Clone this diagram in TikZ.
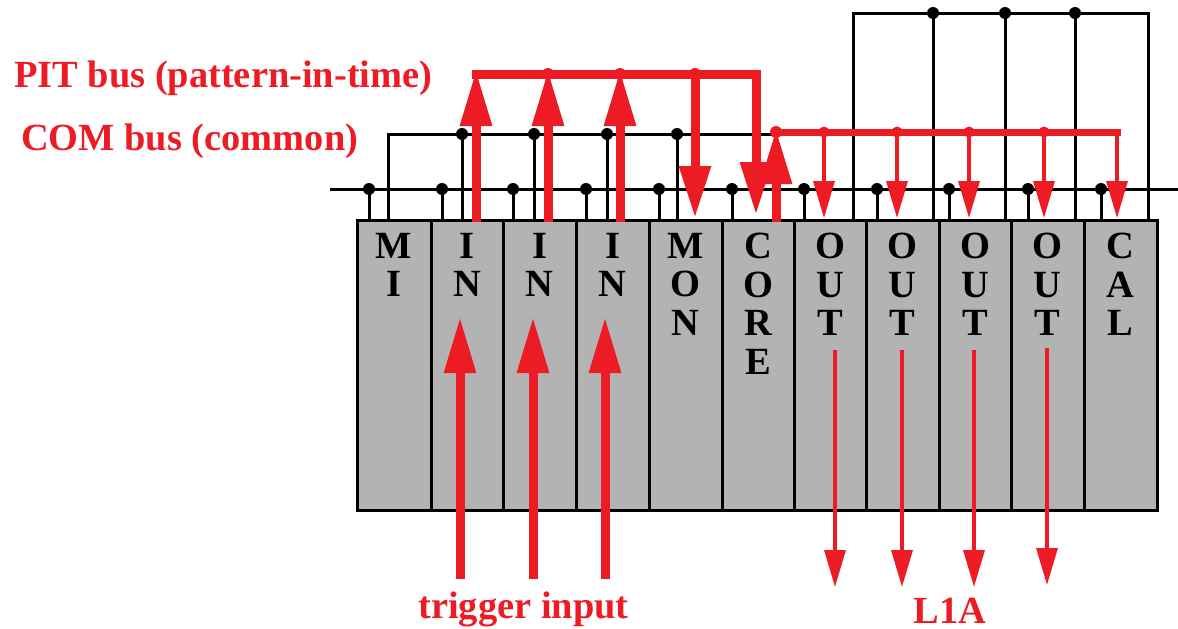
\documentclass[tikz,border=0pt]{standalone}
\usepackage{fontspec}
\setmainfont{Liberation Serif}
\usetikzlibrary{arrows.meta}
\definecolor{busred}{RGB}{237,28,36}
\definecolor{modgray}{RGB}{179,179,179}
\begin{document}
\begin{tikzpicture}[x=1pt,y=-1pt,
  module/.style={draw=black,line width=3pt,fill=modgray,inner sep=0pt,minimum height=290pt},
  letters/.style={align=center,inner sep=0pt,anchor=north,font=\fontsize{38.5}{38.5}\selectfont\bfseries},
  bus/.style={draw=black,line width=3pt},
  bdot/.style={fill=black},
  rdot/.style={fill=busred},
  lbl/.style={text=busred,inner sep=0pt,font=\fontsize{38.4}{40}\selectfont\bfseries},
  fat/.style={draw=busred,line width=9pt},
  fatup/.style={draw=busred,line width=9pt,-{Triangle[length=56pt,width=30pt]}},
  thin/.style={draw=busred,line width=3.5pt,-{Triangle[length=37pt,width=21pt]}},
]
\useasboundingbox (0,0) rectangle (1178,629);
% modules
\foreach \l/\r/\n/\t in {357/431/mi/{M\\I},431/503/ina/{I\\N},503/576/inb/{I\\N},576/649/inc/{I\\N},
  649/722/mon/{M\\O\\N},722/794/core/{C\\O\\R\\E},794/866/outa/{O\\U\\T},866/939/outb/{O\\U\\T},
  939/1011/outc/{O\\U\\T},1011/1084/outd/{O\\U\\T},1084/1157/cal/{C\\A\\L}}{
  \node[module,minimum width={\r-\l}] (\n) at ({(\l+\r)/2},365) {};
  \node[letters] (\n-t) at ({(\l+\r)/2},233) {\t};
}
% lower common bus
\draw[bus] (330,189) -- (1178,189);
\foreach \x in {369,442,513,586,659,732,804,877,949,1028,1101}{
  \draw[bus] (\x,189) -- (\x,220);
  \fill[bdot] (\x,189) circle[radius=6pt];
}
% COM bus (black, left)
\draw[bus] (388,220) -- (388,134) -- (778,134);
\foreach \x in {462,534,607,677}{
  \draw[bus] (\x,134) -- (\x,220);
  \fill[bdot] (\x,134) circle[radius=6pt];
}
% top right bus
\draw[bus] (853,220) -- (853,13) -- (1148,13) -- (1148,220);
\foreach \x in {933,1005,1075}{
  \draw[bus] (\x,13) -- (\x,220);
  \fill[bdot] (\x,13) circle[radius=6pt];
}
% PIT bus
\draw[fat] (472,74) -- (760.5,74);
\foreach \x in {476,548,620}{
  \draw[fatup] (\x,222) -- (\x,70);
}
\fill[rdot] (548,74) circle[radius=6pt];
\fill[rdot] (620,74) circle[radius=6pt];
\fill[rdot] (695,74) circle[radius=6pt];
\draw[draw=busred,line width=9pt,-{Triangle[length=52pt,width=30pt]}] (695,74) -- (695,218);
\draw[draw=busred,line width=9pt,-{Triangle[length=53pt,width=30pt]}] (756,69.5) -- (756,215);
% CORE up to COM red bus
\draw[draw=busred,line width=7pt] (776,132) -- (1120.5,132);
\draw[draw=busred,line width=9pt,-{Triangle[length=55pt,width=30pt]}] (776,222) -- (776,129);
\fill[rdot] (776,132) circle[radius=6pt];
\foreach \x in {824,897,969,1044}{
  \fill[rdot] (\x,132) circle[radius=5.5pt];
  \draw[thin] (\x,132) -- (\x,218);
}
\draw[thin] (1117,128.5) -- (1117,218);
% outputs
\draw[thin] (835,350) -- (835,587);
\draw[thin] (902,350) -- (902,587);
\draw[thin] (974,350) -- (974,587);
\draw[thin] (1047,348) -- (1047,585);
% trigger inputs
\foreach \x in {460,533,605}{
  \draw[fatup] (\x,579) -- (\x,317);
}
% labels
\node[lbl,anchor=base west] (pit) at (14,87) {PIT bus (pattern-in-time)};
\node[lbl,anchor=base west] (com) at (21,150) {COM bus (common)};
\node[lbl,anchor=base] (trig) at (523.5,618) {trigger input};
\node[lbl,anchor=base] (l1a) at (950,623) {L1A};
\end{tikzpicture}
\end{document}
